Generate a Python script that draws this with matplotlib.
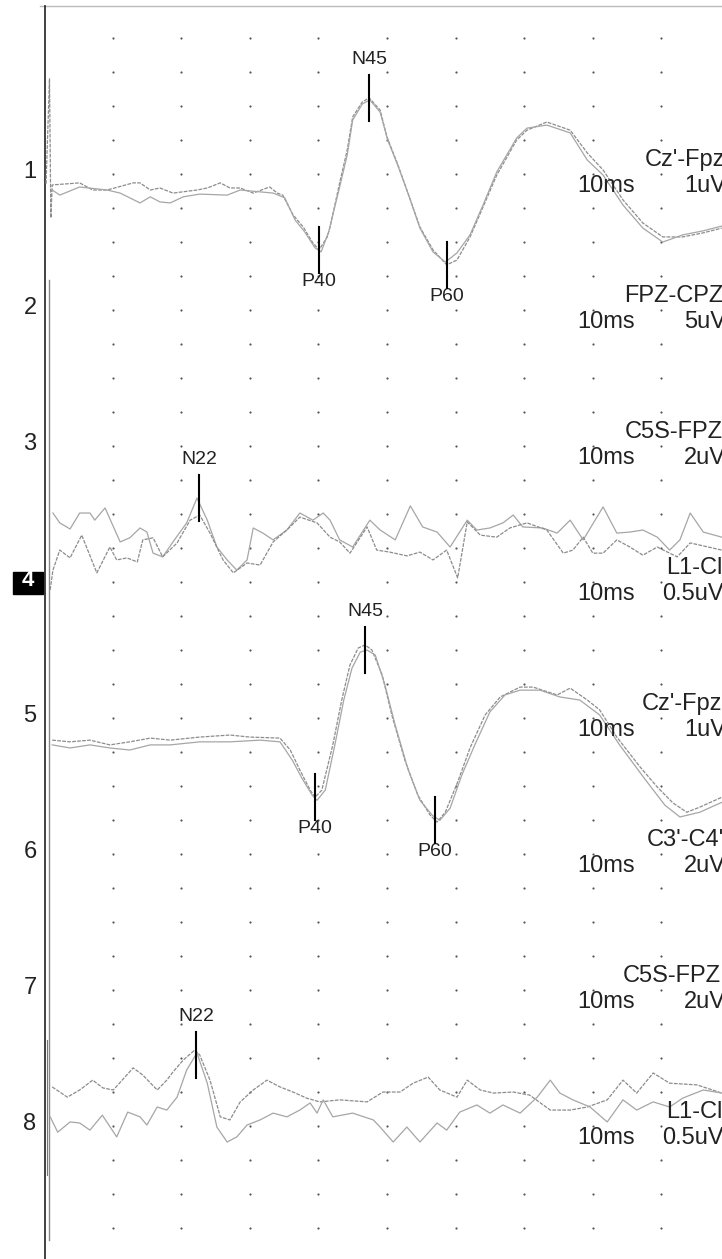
import matplotlib
matplotlib.use("Agg")
import matplotlib.pyplot as plt
from matplotlib.patches import Rectangle

# Evoked potential traces: time in ms, amplitude in grid divisions (up = positive)
# Channel rows (in grid divisions from the top dot row)
CHANNEL_ROWS = [4, 8, 12, 16, 20, 24, 28, 32]
CHANNEL_NUMBERS = ["1", "2", "3", "4", "5", "6", "7", "8"]
MONTAGES = ["Cz'-Fpz", "FPZ-CPZ", "C5S-FPZ", "L1-Cl", "Cz'-Fpz", "C3'-C4'", "C5S-FPZ", "L1-Cl"]
SWEEPS = ["10ms"] * 8
SENSITIVITIES = ["1uV", "5uV", "2uV", "0.5uV", "1uV", "2uV", "2uV", "0.5uV"]

# channel 1, Cz'-Fpz (cortical SEP), two superimposed runs
C1_TIME_A = [0.3, 0.8, 1.0, 1.2, 5.2, 7.1, 9.2, 13.0, 14.0, 15.5, 16.9, 18.8, 22.3, 23.8, 25.7,
             27.1, 28.6, 30.5, 32.9, 34.0, 34.8, 36.3, 37.8, 39.2, 40.1, 41.3, 41.7, 43.1, 44.2,
             45.0, 46.4, 47.4, 49.0, 50.0, 51.5, 52.9, 54.8, 56.7, 58.7, 60.2, 62.1, 64.0, 66.0,
             68.9, 70.4, 73.3, 76.7, 79.2, 81.5, 84.4, 87.3, 90.2, 93.1, 96.1, 98.8]
C1_AMP_A = [-0.3, 2.79, -1.30, -0.33, -0.27, -0.48, -0.48, -0.27, -0.27, -0.48, -0.42, -0.57, -0.48,
            -0.42, -0.27, -0.42, -0.42, -0.57, -0.39, -0.57, -0.63, -1.21, -1.57, -2.04, -2.24,
            -1.86, -1.57, -0.27, 0.70, 1.67, 2.11, 2.23, 1.87, 1.08, 0.31, -0.48, -1.57, -2.24,
            -2.68, -2.54, -1.86, -0.98, -0.04, 0.99, 1.28, 1.52, 1.28, 0.61, 0.11, -0.77, -1.45,
            -1.86, -1.86, -1.74, -1.60]
C1_TIME_B = [1.2, 2.3, 5.2, 9.2, 11.1, 14.0, 15.5, 16.9, 18.4, 20.3, 22.7, 26.7, 28.6, 33.4, 35.1,
             36.6, 38.0, 39.5, 40.4, 41.5, 43.1, 44.2, 45.0, 46.4, 47.5, 49.0, 50.1, 51.6, 53.1,
             54.8, 56.7, 58.5, 60.2, 62.1, 64.0, 66.0, 68.9, 70.4, 73.3, 76.7, 79.2, 81.5, 84.4,
             87.3, 90.2, 93.1, 96.1, 98.8]
C1_AMP_B = [-0.48, -0.63, -0.39, -0.48, -0.57, -0.86, -0.68, -0.83, -0.86, -0.68, -0.60, -0.63,
            -0.48, -0.57, -0.71, -1.36, -1.71, -2.18, -2.30, -1.71, -0.39, 0.55, 1.58, 2.05, 2.17,
            1.81, 0.99, 0.23, -0.60, -1.60, -2.30, -2.60, -2.33, -1.80, -0.92, 0.05, 1.05, 1.34,
            1.43, 1.20, 0.40, -0.04, -0.92, -1.60, -2.01, -1.80, -1.68, -1.54]

# channel 4, L1-Cl (lumbar N22)
C4_TIME_A = [1.3, 2.3, 3.8, 5.2, 6.7, 7.4, 8.9, 11.1, 12.5, 14.0, 15.0, 15.9, 17.3, 18.8, 20.8,
             22.3, 23.8, 25.2, 26.7, 28.1, 29.6, 30.5, 31.9, 33.4, 35.4, 37.3, 39.2, 40.7, 41.7,
             43.1, 45.0, 47.5, 49.0, 51.2, 53.4, 55.2, 57.3, 59.2, 61.7, 63.1, 65.0, 66.9, 68.4,
             69.8, 72.7, 74.8, 76.7, 78.6, 81.5, 83.5, 85.4, 87.3, 89.4, 91.2, 92.7, 94.2, 96.1,
             98.8]
C4_AMP_A = [2.02, 1.73, 1.55, 2.02, 2.02, 1.81, 2.17, 1.17, 1.29, 1.58, 1.46, 0.84, 0.73, 1.17,
            1.73, 2.46, 1.81, 1.02, 0.64, 0.34, 0.64, 1.58, 1.43, 1.23, 1.52, 2.02, 1.81, 2.02,
            1.81, 1.23, 1.02, 1.81, 1.52, 1.23, 2.23, 1.61, 1.46, 1.02, 1.81, 1.52, 1.58, 1.73,
            1.96, 1.61, 1.58, 1.43, 1.81, 1.23, 2.20, 1.43, 1.46, 1.52, 1.31, 0.93, 1.23, 2.02,
            1.46, 1.31]
C4_TIME_B = [0.9, 1.3, 2.3, 3.8, 5.5, 7.7, 9.6, 10.6, 12.1, 13.6, 14.4, 15.9, 17.3, 19.4, 21.3,
             22.7, 24.2, 26.1, 27.6, 29.6, 31.5, 33.4, 35.4, 37.3, 39.8, 41.7, 43.1, 44.6, 47.1,
             48.5, 50.4, 52.9, 54.8, 56.7, 58.7, 60.3, 61.7, 63.6, 66.0, 67.9, 70.4, 73.3, 75.7,
             77.1, 78.6, 80.0, 81.5, 83.5, 85.4, 87.3, 89.4, 92.3, 94.2, 98.8]
C4_AMP_B = [-0.24, 0.34, 0.93, 0.70, 1.37, 0.26, 1.02, 0.64, 0.70, 0.58, 1.23, 1.29, 0.73, 1.14,
            1.81, 1.96, 1.43, 0.64, 0.26, 0.55, 0.49, 1.17, 1.52, 1.90, 1.73, 1.31, 1.17, 0.84,
            1.61, 0.93, 0.87, 0.76, 0.87, 0.64, 0.93, 0.11, 1.76, 1.37, 1.31, 1.58, 1.73, 1.52,
            0.84, 0.93, 1.31, 0.84, 0.84, 1.23, 1.02, 0.78, 1.02, 0.73, 1.14, 0.93]

# channel 5, Cz'-Fpz (second stimulation side)
C5_TIME_A = [1.2, 3.8, 6.7, 9.6, 12.5, 15.5, 18.4, 22.7, 27.1, 30.0, 34.4, 35.9, 37.3, 38.8, 39.5,
             40.5, 42.1, 43.4, 44.6, 45.8, 46.8, 47.8, 49.3, 50.7, 52.6, 54.5, 56.3, 57.3, 58.5,
             60.4, 62.1, 64.3, 66.5, 69.4, 71.3, 74.8, 76.7, 79.2, 81.0, 83.5, 86.9, 89.4, 91.7,
             93.7, 95.6, 98.8]
C5_AMP_A = [-0.66, -0.71, -0.66, -0.80, -0.71, -0.60, -0.66, -0.57, -0.51, -0.57, -0.60, -0.95,
            -1.54, -2.13, -2.34, -2.13, -0.80, 0.52, 1.55, 2.05, 2.14, 1.99, 1.26, 0.08, -1.25,
            -2.28, -2.87, -3.07, -2.78, -1.84, -0.89, 0.08, 0.61, 0.90, 0.90, 0.67, 0.87, 0.52,
            0.23, -0.57, -1.45, -2.04, -2.51, -2.78, -2.63, -2.34]
C5_TIME_B = [1.2, 3.8, 6.7, 9.6, 12.5, 15.5, 18.4, 22.7, 27.1, 31.5, 34.4, 36.2, 37.6, 39.1, 39.8,
             41.0, 42.4, 43.7, 44.9, 46.1, 47.1, 48.3, 49.7, 51.2, 53.1, 54.8, 56.6, 57.7, 59.2,
             60.9, 62.8, 65.0, 67.2, 69.4, 72.3, 75.2, 78.1, 81.0, 83.9, 87.5, 90.5, 92.7, 95.6,
             98.8]
C5_AMP_B = [-0.80, -0.89, -0.80, -0.89, -0.95, -0.80, -0.80, -0.71, -0.71, -0.66, -0.71, -1.25,
            -1.78, -2.28, -2.43, -2.13, -0.80, 0.52, 1.46, 1.93, 1.99, 1.84, 0.96, -0.22, -1.54,
            -2.43, -2.87, -3.02, -2.66, -1.69, -0.80, 0.17, 0.67, 0.81, 0.81, 0.61, 0.52, 0.08,
            -0.80, -1.78, -2.57, -2.92, -2.78, -2.49]

# channel 8, L1-Cl (second stimulation side)
C8_TIME_A = [1.2, 3.4, 5.2, 7.1, 8.6, 10.1, 13.0, 14.4, 16.5, 17.9, 18.8, 20.3, 22.0, 22.7, 24.2,
             25.7, 27.1, 28.6, 30.5, 32.5, 34.4, 36.3, 38.3, 40.2, 43.1, 47.1, 49.4, 51.9, 53.8,
             56.0, 57.7, 60.2, 61.7, 63.6, 65.5, 68.4, 70.8, 73.8, 76.7, 79.2, 82.1, 84.4, 86.4,
             88.8, 91.2, 95.2, 98.8]
C8_AMP_A = [1.14, 0.84, 1.05, 1.34, 1.11, 1.05, 1.70, 1.49, 1.05, 1.34, 1.58, 1.93, 2.23, 2.08,
            1.34, 0.26, 0.17, 0.70, 1.05, 1.34, 1.14, 0.99, 0.81, 0.70, 0.76, 0.70, 0.99, 0.99,
            1.25, 1.43, 1.05, 0.84, 1.34, 1.05, 0.96, 0.99, 0.90, 0.46, 0.46, 0.55, 0.76, 1.34,
            0.96, 1.55, 1.25, 1.20, 0.96]
C8_TIME_B = [0.9, 2.0, 3.8, 5.2, 6.7, 8.5, 10.6, 12.2, 14.0, 15.0, 16.5, 17.9, 19.4, 20.8, 22.3,
             23.8, 25.2, 26.7, 28.1, 29.6, 31.5, 33.4, 35.4, 37.3, 38.8, 39.8, 40.7, 42.1, 45.0,
             48.0, 49.0, 50.9, 52.9, 54.8, 57.3, 58.7, 60.6, 63.1, 65.0, 66.9, 69.4, 71.9, 73.8,
             75.2, 77.1, 79.6, 82.1, 84.4, 86.4, 88.8, 91.2, 93.1, 96.1, 98.8]
C8_AMP_B = [0.26, -0.19, 0.11, 0.08, -0.13, 0.31, -0.33, 0.40, 0.26, 0.02, 0.55, 0.46, 0.84, 1.64,
            2.14, 1.25, -0.04, -0.48, -0.33, 0.02, 0.17, 0.37, 0.26, 0.46, 0.67, 0.37, 0.76, 0.26,
            0.37, 0.17, -0.04, -0.48, -0.04, -0.48, 0.08, -0.13, 0.40, 0.61, 0.37, 0.61, 0.37,
            0.84, 1.34, 0.96, 0.76, 0.55, 0.11, 0.76, 0.46, 0.70, 0.55, 0.81, 1.05, 0.96]

# peak markers: name, channel index, latency (ms), amplitude (div)
PEAK_NAMES = ["P40", "N45", "P60", "N22", "P40", "N45", "P60", "N22"]
PEAK_CHANNELS = [0, 0, 0, 3, 4, 4, 4, 7]
PEAK_LATENCIES = [40.1, 47.4, 58.7, 22.6, 39.5, 46.8, 57.0, 22.2]
PEAK_AMPS = [-2.24, 2.23, -2.68, 2.46, -2.34, 1.99, -3.0, 2.08]

GRID_TIMES = [10, 20, 30, 40, 50, 60, 70, 80, 90]
N_GRID_ROWS = 36

# pixel geometry of the scanned sheet
PX_PER_MS = 6.86
PX_PER_DIV = 34.0
X0_PX = 44.0
Y0_PX = 37.7
W_PX, H_PX = 722, 1259

TRACE_GRAY = "#8c8c8c"
TRACE_GRAY2 = "#a6a6a6"
TEXT_FONT = ["Liberation Sans", "DejaVu Sans"]
NARROW_FONT = ["Liberation Sans Narrow", "Liberation Sans", "DejaVu Sans"]


def px_to_ms(px):
    return (px - X0_PX) / PX_PER_MS


def px_to_row(py):
    return (py - Y0_PX) / PX_PER_DIV


def draw_trace(ax, row, times, amps, color, dashes=None):
    ys = [row - a for a in amps]
    line, = ax.plot(times, ys, color=color, lw=0.9, solid_joinstyle="round")
    if dashes:
        line.set_dashes(dashes)


def main():
    fig = plt.figure(figsize=(W_PX / 100, H_PX / 100), dpi=100)
    ax = fig.add_axes([0, 0, 1, 1])
    ax.set_xlim(px_to_ms(0), px_to_ms(W_PX))
    ax.set_ylim(px_to_row(H_PX), px_to_row(0))
    ax.axis("off")

    # dot grid
    for t in GRID_TIMES:
        ax.scatter([t] * N_GRID_ROWS, list(range(N_GRID_ROWS)), s=2.5, color="#555555",
                   linewidths=0, zorder=1)

    # frame: top rule and left baseline (double line from stimulus artefacts)
    ax.plot([px_to_ms(40), px_to_ms(W_PX)], [px_to_row(6), px_to_row(6)], color="#bbbbbb", lw=1.0)
    ax.plot([0.1, 0.1], [px_to_row(6), px_to_row(H_PX)], color="#333333", lw=1.3)
    ax.plot([0.7, 0.7], [px_to_row(280), px_to_row(1240)], color="#888888", lw=1.0)
    ax.plot([0.5, 0.5], [px_to_row(1040), px_to_row(1175)], color="#777777", lw=0.8)

    # traces
    draw_trace(ax, CHANNEL_ROWS[0], C1_TIME_A, C1_AMP_A, TRACE_GRAY, (3, 1))
    draw_trace(ax, CHANNEL_ROWS[0], C1_TIME_B, C1_AMP_B, TRACE_GRAY2)
    draw_trace(ax, CHANNEL_ROWS[3], C4_TIME_A, C4_AMP_A, TRACE_GRAY2)
    draw_trace(ax, CHANNEL_ROWS[3], C4_TIME_B, C4_AMP_B, TRACE_GRAY, (3, 1))
    draw_trace(ax, CHANNEL_ROWS[4], C5_TIME_A, C5_AMP_A, TRACE_GRAY, (3, 1))
    draw_trace(ax, CHANNEL_ROWS[4], C5_TIME_B, C5_AMP_B, TRACE_GRAY2)
    draw_trace(ax, CHANNEL_ROWS[7], C8_TIME_A, C8_AMP_A, TRACE_GRAY, (3, 1))
    draw_trace(ax, CHANNEL_ROWS[7], C8_TIME_B, C8_AMP_B, TRACE_GRAY2)

    # peak markers
    for name, ch, lat, amp in zip(PEAK_NAMES, PEAK_CHANNELS, PEAK_LATENCIES, PEAK_AMPS):
        yc = CHANNEL_ROWS[ch] - amp
        top, bottom = yc - 0.68, yc + 0.68
        ax.plot([lat, lat], [top, bottom], color="black", lw=1.5, zorder=5)
        if name.startswith("N"):
            ax.text(lat, top - 0.45, name, ha="center", va="center", fontsize=14,
                    family=NARROW_FONT, color="#222222")
        else:
            ax.text(lat, bottom + 0.25, name, ha="center", va="center", fontsize=14,
                    family=NARROW_FONT, color="#222222")

    # channel numbers and montage labels
    name_x = [87.5, 84.5, 84.7, 90.7, 87.2, 87.8, 84.3, 90.7]
    for i, row in enumerate(CHANNEL_ROWS):
        if CHANNEL_NUMBERS[i] == "4":
            ax.add_patch(Rectangle((px_to_ms(13), px_to_row(572)), px_to_ms(43) - px_to_ms(13),
                                   px_to_row(594) - px_to_row(572), color="black", zorder=4))
            ax.text(px_to_ms(28), row - 0.05, "4", ha="center", va="center", fontsize=16,
                    family=TEXT_FONT, color="white", fontweight="bold", zorder=5)
        else:
            ax.text(px_to_ms(30), row - 0.05, CHANNEL_NUMBERS[i], ha="center", va="center",
                    fontsize=17, family=TEXT_FONT, color="#222222")
        ax.text(name_x[i], row - 0.40, MONTAGES[i], ha="left", va="center", fontsize=17,
                family=TEXT_FONT, color="#222222", clip_on=False)
        ax.text(px_to_ms(577), row + 0.36, SWEEPS[i], ha="left", va="center", fontsize=17,
                family=TEXT_FONT, color="#222222")
        unit_x = px_to_ms(662) if SENSITIVITIES[i] == "0.5uV" else px_to_ms(684)
        ax.text(unit_x, row + 0.36, SENSITIVITIES[i], ha="left", va="center", fontsize=17,
                family=TEXT_FONT, color="#222222")

    fig.savefig("out.png", dpi=100, facecolor="white")


if __name__ == "__main__":
    main()
